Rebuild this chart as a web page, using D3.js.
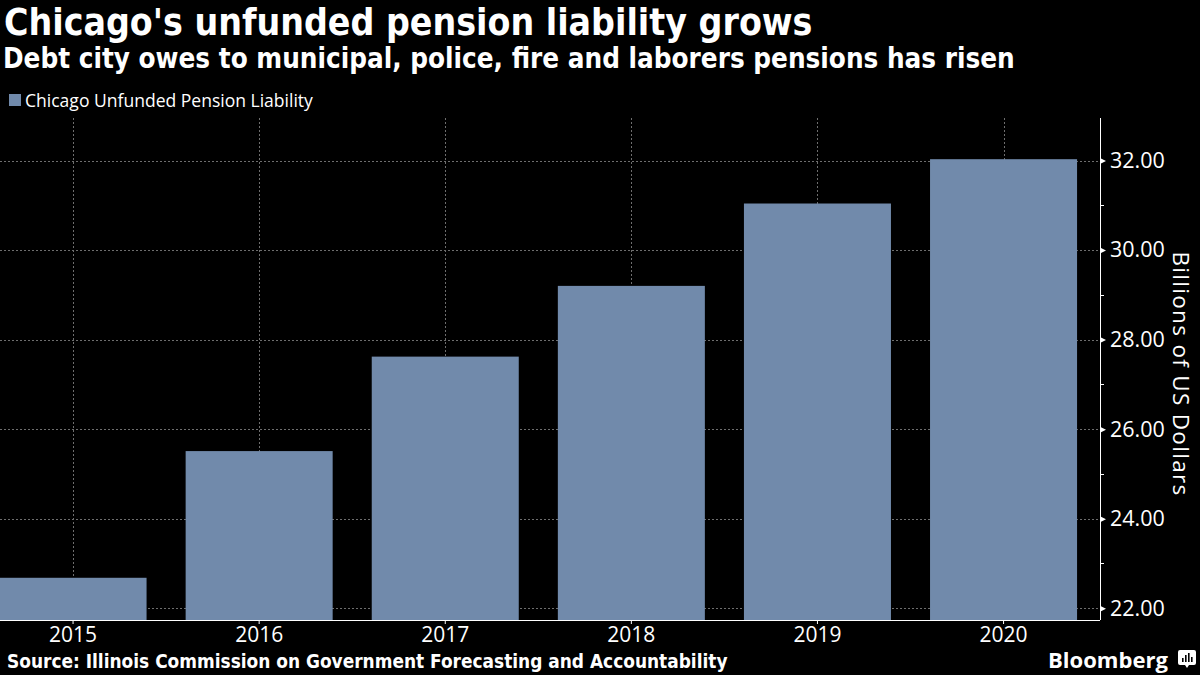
<!DOCTYPE html>
<html>
<head>
<meta charset="utf-8">
<script src="https://cdn.jsdelivr.net/npm/d3@7/dist/d3.min.js"></script>
<style>
  html, body { margin: 0; padding: 0; background: #000; }
  svg { display: block; }
</style>
</head>
<body>
<svg id="chart" width="1200" height="675"></svg>
<script>
// ---- data ----
const categories = ["2015", "2016", "2017", "2018", "2019", "2020"];
const values = [22.68, 25.51, 27.62, 29.20, 31.04, 32.03];
const yTicks = [22, 24, 26, 28, 30, 32];
const yMinorTicks = [23, 25, 27, 29, 31];
const seriesName = "Chicago Unfunded Pension Liability";
const titleText = "Chicago's unfunded pension liability grows";
const subtitleText = "Debt city owes to municipal, police, fire and laborers pensions has risen";
const sourceText = "Source: Illinois Commission on Government Forecasting and Accountability";
const yAxisTitle = "Billions of US Dollars";

// ---- layout ----
const W = 1200, H = 675;
const plot = { left: 0, right: 1100, top: 118, bottom: 620 };
const barColor = "#718aab";
const gridColor = "#6e6e6e";
const labelFont = "'Open Sans', 'Noto Sans', sans-serif";
const boldFont = "'DejaVu Sans Condensed', 'DejaVu Sans', sans-serif";

const svg = d3.select("#chart");
svg.append("rect").attr("width", W).attr("height", H).attr("fill", "#000");

function fit(sel, width) {
  const node = sel.node();
  let fs = parseFloat(sel.attr("font-size"));
  const len = node.getComputedTextLength();
  if (len > 0) sel.attr("font-size", (fs * width / len).toFixed(2));
  return parseFloat(sel.attr("font-size"));
}

const x = d3.scaleBand()
  .domain(categories)
  .range([-20, 1096.6])
  .paddingInner(0.21)
  .paddingOuter(0.105);

const y = d3.scaleLinear()
  .domain([21.737, 32.95])
  .range([plot.bottom, plot.top]);

// gridlines
const grid = svg.append("g");
grid.selectAll("line.h").data(yTicks).join("line")
  .attr("x1", plot.left).attr("x2", plot.right)
  .attr("y1", d => Math.round(y(d)) + 0.5).attr("y2", d => Math.round(y(d)) + 0.5)
  .attr("stroke", gridColor).attr("stroke-width", 1).attr("stroke-dasharray", "2,2");
grid.selectAll("line.v").data(categories).join("line")
  .attr("x1", d => Math.round(x(d) + x.bandwidth() / 2) + 0.5)
  .attr("x2", d => Math.round(x(d) + x.bandwidth() / 2) + 0.5)
  .attr("y1", plot.top).attr("y2", plot.bottom)
  .attr("stroke", gridColor).attr("stroke-width", 1).attr("stroke-dasharray", "2,2");

// bars
svg.append("g").selectAll("rect").data(categories).join("rect")
  .attr("x", d => x(d))
  .attr("width", x.bandwidth())
  .attr("y", (d, i) => y(values[i]))
  .attr("height", (d, i) => plot.bottom - y(values[i]))
  .attr("fill", barColor);

// x axis
const xAxis = d3.axisBottom(x).tickSize(4).tickPadding(3);
const gx = svg.append("g").attr("transform", `translate(0,${plot.bottom})`).call(xAxis);
gx.select(".domain").attr("d", `M${plot.left},0.5H${plot.right}`).attr("stroke", "#fff");
gx.selectAll(".tick line").attr("stroke", "#fff");
gx.selectAll(".tick text").attr("fill", "#fff")
  .attr("font-family", labelFont).attr("font-size", 21).attr("dy", "0.71em");

// y axis (right)
const yAxis = d3.axisRight(y).tickValues(yTicks).tickFormat(d3.format(".2f")).tickSize(0).tickPadding(10);
const gy = svg.append("g").attr("transform", `translate(${plot.right},0)`).call(yAxis);
gy.select(".domain").attr("d", `M0.5,${plot.top}V${plot.bottom}`).attr("stroke", "#fff");
gy.selectAll(".tick text").attr("fill", "#fff")
  .attr("font-family", labelFont).attr("font-size", 21.5);
gy.selectAll(".tick").append("path")
  .attr("d", "M0,-3L6,0L0,3Z").attr("fill", "#fff");
gy.selectAll(".minor").data(yMinorTicks).join("line")
  .attr("class", "minor")
  .attr("x1", 0).attr("x2", 4)
  .attr("y1", d => Math.round(y(d)) + 0.5).attr("y2", d => Math.round(y(d)) + 0.5)
  .attr("stroke", "#fff");

// y axis title
svg.append("text")
  .attr("transform", `translate(1173,374) rotate(90)`)
  .attr("text-anchor", "middle")
  .attr("fill", "#fff").attr("font-family", labelFont).attr("font-size", 22.5)
  .attr("letter-spacing", 1.3)
  .text(yAxisTitle);

// titles
const t1 = svg.append("text").attr("x", 4).attr("y", 35)
  .attr("fill", "#fff").attr("font-family", boldFont).attr("font-weight", "bold")
  .attr("font-size", 32).text(titleText);
fit(t1, 809);
const t2 = svg.append("text").attr("x", 3).attr("y", 68)
  .attr("fill", "#fff").attr("font-family", boldFont).attr("font-weight", "bold")
  .attr("font-size", 22).text(subtitleText);
fit(t2, 1012);

// legend
svg.append("rect").attr("x", 9).attr("y", 94).attr("width", 12).attr("height", 12).attr("fill", barColor);
const lg = svg.append("text").attr("x", 25).attr("y", 107)
  .attr("fill", "#fff").attr("font-family", labelFont).attr("font-size", 16).text(seriesName);
fit(lg, 288);

// source
const src = svg.append("text").attr("x", 7).attr("y", 668)
  .attr("fill", "#fff").attr("font-family", boldFont).attr("font-weight", "bold")
  .attr("font-size", 16).text(sourceText);
fit(src, 721);

// Bloomberg logo
const bb = svg.append("text").attr("x", 1048).attr("y", 668)
  .attr("fill", "#fff").attr("font-family", "'Open Sans', sans-serif").attr("font-weight", "bold")
  .attr("font-size", 22).text("Bloomberg");
fit(bb, 120);
const icon = svg.append("g").attr("transform", "translate(1178,650)");
icon.append("path").attr("d", "M2,0H16A2,2 0 0 1 18,2V13A2,2 0 0 1 16,15H11L9,18L7,15H2A2,2 0 0 1 0,13V2A2,2 0 0 1 2,0Z").attr("fill", "#fff");
[[4, 8], [7, 5], [10, 3], [13, 7]].forEach(([bx, by]) => {
  icon.append("rect").attr("x", bx).attr("y", by).attr("width", 1.6).attr("height", 12 - by).attr("fill", "#000");
});
</script>
</body>
</html>
